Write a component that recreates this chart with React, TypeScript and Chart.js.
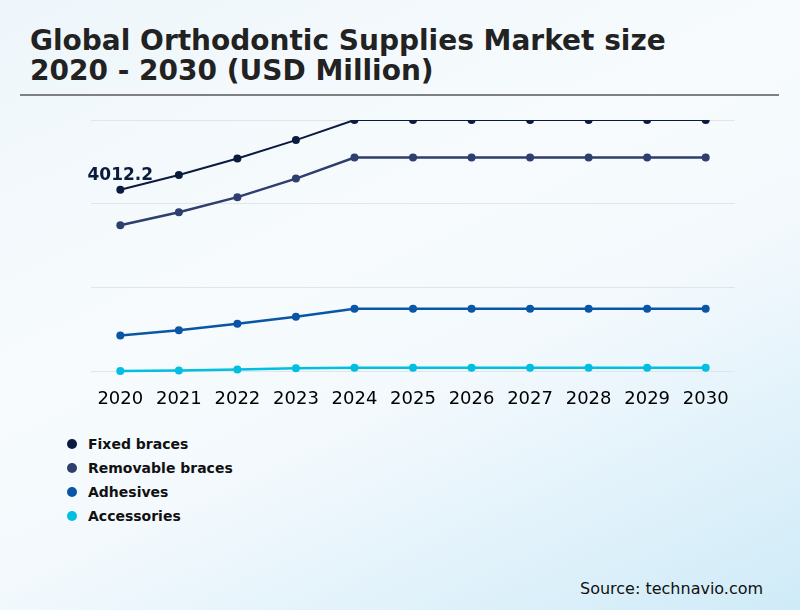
import { useRef, useEffect } from "react";
import Chart from "chart.js/auto";

const years = ["2020", "2021", "2022", "2023", "2024", "2025", "2026", "2027", "2028", "2029", "2030"];
const seriesNames = ["Fixed braces", "Removable braces", "Adhesives", "Accessories"];
const seriesColors = ["#0b1a3f", "#2d3e6f", "#0a56a6", "#00bfe0"];
const fixedBraces = [4012.2, 4336, 4700, 5106, 5550, 5550, 5550, 5550, 5550, 5550, 5550];
const removableBraces = [3226, 3514, 3847, 4256, 4722, 4722, 4722, 4722, 4722, 4722, 4722];
const adhesives = [793, 910, 1050, 1205, 1383, 1383, 1383, 1383, 1383, 1383, 1383];
const accessories = [7, 22, 44, 67, 82, 82, 82, 82, 82, 82, 82];
const yMax = 5550;
const calloutLabel = "4012.2";

const FONT = "'DejaVu Sans', Verdana, sans-serif";

export default function App() {
  const canvasRef = useRef<HTMLCanvasElement>(null);
  const chartRef = useRef<Chart | null>(null);

  useEffect(() => {
    if (!canvasRef.current) return;
    const ctx = canvasRef.current.getContext("2d");
    if (!ctx) return;
    if (chartRef.current) chartRef.current.destroy();

    const values = [fixedBraces, removableBraces, adhesives, accessories];

    // label above the first fixed-braces point
    const callout = {
      id: "callout",
      afterDatasetsDraw(chart: any) {
        const pt = chart.getDatasetMeta(0).data[0];
        if (!pt) return;
        const c = chart.ctx;
        c.save();
        c.font = `bold 17px ${FONT}`;
        c.fillStyle = seriesColors[0];
        c.textAlign = "center";
        c.textBaseline = "bottom";
        c.fillText(calloutLabel, pt.x, pt.y - 6);
        c.restore();
      },
    };

    chartRef.current = new Chart(ctx, {
      type: "line",
      data: {
        labels: years,
        datasets: seriesNames.map((name, i) => ({
          label: name,
          data: values[i],
          borderColor: seriesColors[i],
          backgroundColor: seriesColors[i],
          pointBackgroundColor: seriesColors[i],
          pointBorderWidth: 0,
          pointRadius: 4,
          borderWidth: i === 0 ? 2 : 2.5,
          tension: 0,
          clip: i === 0 ? 0 : 8,
        })),
      },
      options: {
        responsive: true,
        maintainAspectRatio: false,
        animation: false,
        layout: { padding: { left: 10, right: 10, top: 10, bottom: 0 } },
        plugins: {
          legend: { display: false },
          tooltip: { enabled: false },
        },
        scales: {
          x: {
            offset: true,
            grid: { display: false, drawTicks: false },
            border: { display: false },
            ticks: {
              color: "#000",
              padding: 17,
              font: { family: FONT, size: 18 },
            },
          },
          y: {
            min: 0,
            max: yMax,
            grid: { color: "#e2e4e8", drawTicks: false },
            border: { display: false },
            ticks: { display: false, stepSize: yMax / 3 },
          },
        },
      },
      plugins: [callout],
    });

    return () => {
      if (chartRef.current) {
        chartRef.current.destroy();
        chartRef.current = null;
      }
    };
  }, []);

  return (
    <div
      style={{
        position: "fixed",
        left: 0,
        top: 0,
        width: 800,
        height: 610,
        overflow: "hidden",
        fontFamily: FONT,
        background:
          "linear-gradient(155deg, #eef6fb 0%, #f7fbfd 40%, #f3f9fd 60%, #cfebf8 100%)",
      }}
    >
      <div
        style={{
          position: "absolute",
          left: 30,
          top: 26,
          fontSize: 28,
          lineHeight: "30px",
          fontWeight: "bold",
          color: "#222",
        }}
      >
        Global Orthodontic Supplies Market size
        <br />
        2020 - 2030 (USD Million)
      </div>
      <div
        style={{
          position: "absolute",
          left: 20,
          top: 94,
          width: 759,
          height: 2,
          background: "#808080",
        }}
      />
      <div
        style={{ position: "absolute", left: 80, top: 110, width: 666, height: 317 }}
      >
        <canvas
          ref={canvasRef}
          role="img"
          aria-label="Line chart of global orthodontic supplies market size 2020-2030"
        />
      </div>
      <div style={{ position: "absolute", left: 67, top: 432 }}>
        {seriesNames.map((name, i) => (
          <div
            key={name}
            style={{
              display: "flex",
              alignItems: "center",
              height: 24,
              fontSize: 14,
              fontWeight: "bold",
              color: "#111",
            }}
          >
            <span
              style={{
                display: "inline-block",
                width: 10,
                height: 10,
                borderRadius: "50%",
                background: seriesColors[i],
                marginRight: 11,
              }}
            />
            {name}
          </div>
        ))}
      </div>
      <div
        style={{
          position: "absolute",
          left: 580,
          top: 579,
          fontSize: 16,
          color: "#111",
        }}
      >
        Source: technavio.com
      </div>
    </div>
  );
}
